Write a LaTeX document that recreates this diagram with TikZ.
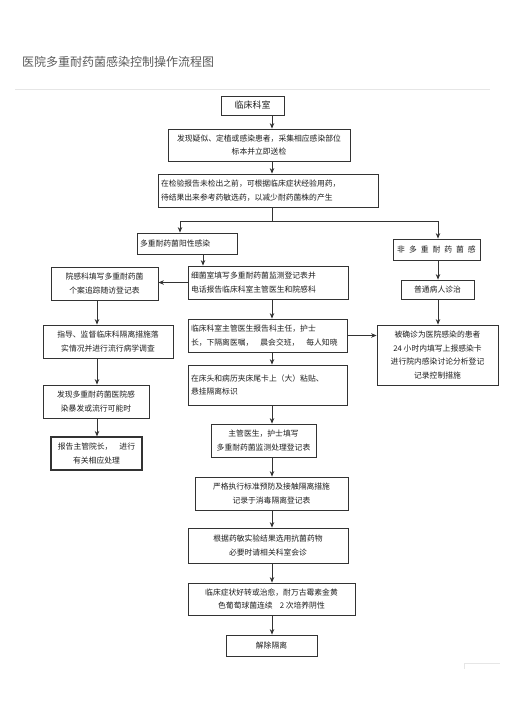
\documentclass[tikz,border=0pt]{standalone}
\usepackage{fontspec}
\setmainfont{Noto Sans CJK SC}
\usepackage{tikz}
\usetikzlibrary{
  arrows.meta,
  positioning,
  calc
}
\definecolor{fcLine}{HTML}{333333}
\definecolor{fcText}{HTML}{1E1E1E}
\definecolor{fcTitle}{HTML}{5A5A5A}
\definecolor{fcFaint}{HTML}{E6E6E6}
\newcommand{\gap}{\hspace{4pt}}
\tikzset{
  fcnode/.style={
    draw=fcLine, line width=0.8pt, text=fcText, inner sep=3pt,
    font=\fontsize{7.8}{13.5}\selectfont
  },
  fcbox/.style={fcnode, align=center},
  fcleft/.style={fcnode, align=left},
  flow/.style={-{Stealth[length=5.5pt,width=4.5pt]}, line width=0.8pt, fcLine},
  netline/.style={line width=0.8pt, fcLine},
  faint/.style={line width=0.6pt, fcFaint}
}

\begin{document}
\begin{tikzpicture}[x=1pt, y=-1pt]
  \useasboundingbox (0,0) rectangle (505,714);
  % page marks
  \draw[faint] (15,89) -- (490,89);
  \draw[faint] (500,663) -- (464,663) -- (464,669);
  \node[anchor=west, inner sep=0pt, text=fcTitle, font=\fontsize{12}{14}\selectfont] (title) at (22,62) {医院多重耐药菌感染控制操作流程图};

  % trunk lines
  \coordinate (trunk) at (272,0);
  \coordinate (lefttrunk) at (97,0);
  \coordinate (dtrunk) at (203,0);
  \coordinate (splitL) at (180,221);
  \coordinate (splitR) at (438,221);

  % main column
  \node[fcbox, minimum width=63, minimum height=19, font=\fontsize{9}{11}\selectfont] (a) at (252.5,105.5) {临床科室};
  \node[fcbox, minimum width=182, minimum height=32] (b) at (259,145) {发现疑似、定植或感染患者，采集相应感染部位\\标本并立即送检};
  \node[fcleft, text width=214, minimum height=33] (c) at (268,190.5) {在检验报告未检出之前，可根据临床症状经验用药，\\待结果出来参考药敏选药，以减少耐药菌株的产生};
  \node[fcleft, text width=94, minimum height=21] (d) at (187,243.5) {多重耐药菌阳性感染};
  \node[fcleft, text width=154, minimum height=33] (f) at (268,282.5) {细菌室填写多重耐药菌监测登记表并\\电话报告临床科室主管医生和院感科};
  \node[fcleft, text width=153, minimum height=33] (k) at (267.5,335.5) {临床科室主管医生报告科主任，护士\\长，下隔离医嘱，\kern7pt 晨会交班，\kern7pt 每人知晓};
  \node[fcleft, text width=153, minimum height=40] (n) at (267.5,385) {在床头和病历夹床尾卡上（大）粘贴、\\悬挂隔离标识};
  \node[fcbox, minimum width=105, minimum height=33] (o) at (263.5,440.5) {主管医生，护士填写\\多重耐药菌监测处理登记表};
  \node[fcbox, minimum width=153, minimum height=33] (p) at (271.5,493.5) {严格执行标准预防及接触隔离措施\\记录于消毒隔离登记表};
  \node[fcbox, minimum width=160, minimum height=35] (q) at (268,545.5) {根据药敏实验结果选用抗菌药物\\必要时请相关科室会诊};
  \node[fcbox, minimum width=167, minimum height=32] (r) at (271.5,599) {临床症状好转或治愈，耐万古霉素金黄\\色葡萄球菌连续\kern7pt 2 次培养阴性};
  \node[fcbox, minimum width=91, minimum height=21] (s) at (271.5,645.5) {解除隔离};

  % left column
  \node[fcbox, minimum width=107, minimum height=33] (g) at (104.5,283.5) {院感科填写多重耐药菌\\个案追踪随访登记表};
  \node[fcbox, minimum width=130, minimum height=33] (h) at (108,341.5) {指导、监督临床科隔离措施落\\实情况并进行流行病学调查};
  \node[fcbox, minimum width=106, minimum height=33] (i) at (96,401.5) {发现多重耐药菌医院感\\染暴发或流行可能时};
  \node[fcbox, minimum width=91, minimum height=33, line width=1.1pt] (j) at (96.5,453.5) {报告主管院长，\kern7pt 进行\\有关相应处理};

  % right column
  \node[fcbox, minimum width=87, minimum height=21] (e) at (436.5,249.5) {非\gap 多\gap 重\gap 耐\gap 药\gap 菌\gap 感};
  \node[fcbox, minimum width=73, minimum height=19] (m) at (437.5,289.5) {普通病人诊治};
  \node[fcbox, minimum width=121, minimum height=60] (l) at (437.5,355) {被确诊为医院感染的患者\\24 小时内填写上报感染卡\\进行院内感染讨论分析登记\\记录控制措施};

  % connectors
  \draw[flow] (a.south -| trunk) -- (b.north -| trunk);
  \draw[flow] (b.south -| trunk) -- (c.north -| trunk);
  \draw[netline] (c.south -| trunk) -- (trunk |- splitL);
  \draw[netline] (splitL) -- (splitR);
  \draw[flow] (splitL) -- (d.north -| splitL);
  \draw[flow] (splitR) -- (e.north -| splitR);
  \draw[flow] (d.south -| dtrunk) -- (f.north -| dtrunk);
  \draw[flow] (f.west) -- (f.west -| g.east);
  \draw[flow] (g.south -| lefttrunk) -- (h.north -| lefttrunk);
  \draw[flow] (h.south -| lefttrunk) -- (i.north -| lefttrunk);
  \draw[flow] (i.south -| lefttrunk) -- (j.north -| lefttrunk);
  \draw[flow] (f.south -| trunk) -- (k.north -| trunk);
  \draw[flow] (k.east) -- (k.east -| l.west);
  \draw[flow] (e.south -| splitR) -- (m.north -| splitR);
  \draw[flow] (m.south -| splitR) -- (l.north -| splitR);
  \draw[flow] (k.south -| trunk) -- (n.north -| trunk);
  \draw[flow] (n.south -| trunk) -- (o.north -| trunk);
  \draw[flow] (o.south -| trunk) -- (p.north -| trunk);
  \draw[flow] (p.south -| trunk) -- (q.north -| trunk);
  \draw[flow] (q.south -| trunk) -- (r.north -| trunk);
  \draw[flow] (r.south -| trunk) -- (s.north -| trunk);
\end{tikzpicture}
\end{document}
